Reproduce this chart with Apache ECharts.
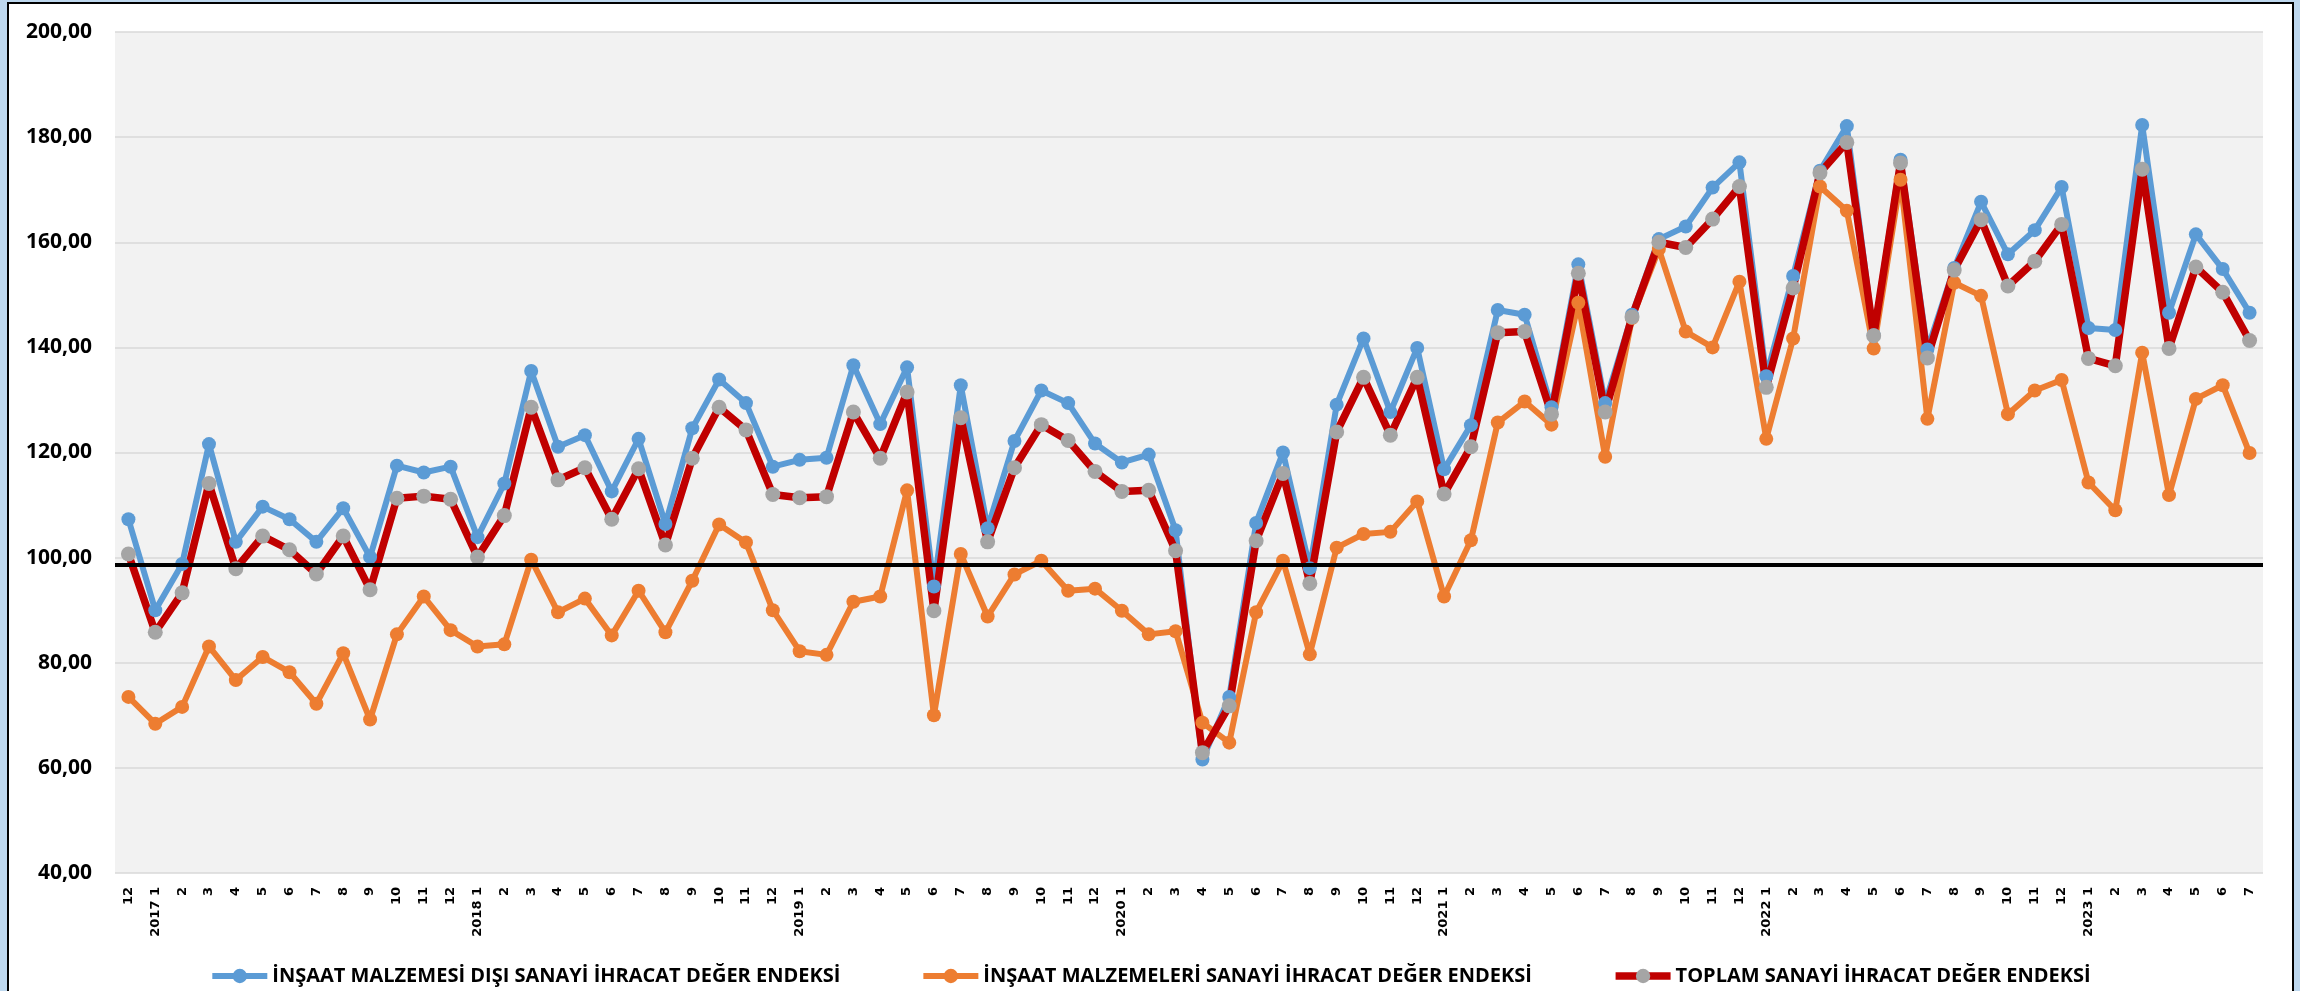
<!DOCTYPE html>
<html>
<head>
<meta charset="utf-8">
<title>İhracat Değer Endeksi</title>
<script src="https://cdn.jsdelivr.net/npm/echarts@6.0.0/dist/echarts.min.js"></script>
<style>
  html, body { margin: 0; padding: 0; background: #BDD7EE; width: 2300px; height: 991px; overflow: hidden; }
  #frame { position: absolute; left: 7px; top: 2px; width: 2283px; height: 1020px; border: 2px solid #000; background: #fff; }
  #chart { position: absolute; left: 0; top: 0; width: 2300px; height: 991px; }
</style>
</head>
<body>
<div id="frame"></div>
<div id="chart"></div>
<script>
// ay etiketleri (2016/12 - 2023/7)
var months = ['12',
  '2017 1','2','3','4','5','6','7','8','9','10','11','12',
  '2018 1','2','3','4','5','6','7','8','9','10','11','12',
  '2019 1','2','3','4','5','6','7','8','9','10','11','12',
  '2020 1','2','3','4','5','6','7','8','9','10','11','12',
  '2021 1','2','3','4','5','6','7','8','9','10','11','12',
  '2022 1','2','3','4','5','6','7','8','9','10','11','12',
  '2023 1','2','3','4','5','6','7'];

var disiSanayi = [107.3, 90.0, 98.8, 121.6, 103.0, 109.7, 107.3, 103.0, 109.4, 100.1,
  117.5, 116.2, 117.3, 103.9, 114.1, 135.5, 121.1, 123.3, 112.6, 122.6,
  106.4, 124.6, 133.9, 129.4, 117.3, 118.6, 119.0, 136.6, 125.4, 136.2,
  94.5, 132.8, 105.6, 122.2, 131.8, 129.4, 121.7, 118.1, 119.6, 105.2,
  61.6, 73.5, 106.6, 120.0, 98.0, 129.1, 141.7, 127.7, 139.9, 116.8,
  125.2, 147.1, 146.2, 128.6, 155.8, 129.4, 146.2, 160.6, 163.0, 170.4,
  175.2, 134.5, 153.6, 173.6, 182.1, 142.3, 175.7, 139.6, 155.1, 167.7,
  157.7, 162.3, 170.5, 143.7, 143.3, 182.3, 146.6, 161.5, 154.9, 146.6];

var malzemeSanayi = [73.5, 68.4, 71.6, 83.1, 76.7, 81.1, 78.2, 72.2, 81.8, 69.2,
  85.4, 92.6, 86.2, 83.1, 83.5, 99.6, 89.6, 92.2, 85.2, 93.7,
  85.8, 95.6, 106.3, 102.9, 90.0, 82.2, 81.5, 91.6, 92.6, 112.8,
  70.0, 100.7, 88.8, 96.8, 99.4, 93.7, 94.1, 89.9, 85.4, 86.0,
  68.6, 64.8, 89.6, 99.4, 81.6, 101.9, 104.5, 104.9, 110.7, 92.6,
  103.3, 125.7, 129.7, 125.3, 148.5, 119.2, 145.6, 158.7, 143.0, 140.0,
  152.5, 122.6, 141.7, 170.6, 166.0, 139.8, 171.9, 126.4, 152.3, 149.8,
  127.3, 131.8, 133.8, 114.3, 109.0, 139.0, 111.9, 130.2, 132.8, 119.9];

var toplamSanayi = [100.7, 85.8, 93.3, 114.1, 97.9, 104.1, 101.5, 96.9, 104.1, 93.9,
  111.3, 111.7, 111.1, 100.1, 108.0, 128.6, 114.8, 117.1, 107.3, 116.9,
  102.4, 118.9, 128.6, 124.3, 112.0, 111.4, 111.6, 127.7, 118.9, 131.5,
  89.9, 126.6, 103.0, 117.1, 125.3, 122.3, 116.4, 112.6, 112.8, 101.3,
  62.9, 71.8, 103.2, 116.0, 95.1, 123.9, 134.3, 123.3, 134.3, 112.1,
  121.1, 142.8, 143.0, 127.3, 154.1, 127.7, 145.8, 160.0, 159.0, 164.4,
  170.6, 132.4, 151.3, 173.2, 179.0, 142.2, 175.1, 138.0, 154.7, 164.3,
  151.7, 156.4, 163.4, 137.9, 136.5, 173.9, 139.8, 155.3, 150.5, 141.3];

var referansCizgi = 98.7;

var chart = echarts.init(document.getElementById('chart'));

chart.setOption({
  animation: false,
  grid: {
    left: 115,
    right: 37,
    top: 32,
    bottom: 118,
    show: true,
    backgroundColor: '#F2F2F2',
    borderWidth: 0
  },
  legend: {
    left: 'center',
    top: 961,
    itemWidth: 55,
    itemHeight: 18,
    itemGap: 80,
    lineStyle: { width: 'inherit' },
    textStyle: { fontFamily: 'Open Sans', fontWeight: 'bold', fontSize: 20, color: '#000' },
    data: ['İNŞAAT MALZEMESİ DIŞI SANAYİ İHRACAT DEĞER ENDEKSİ',
           'İNŞAAT MALZEMELERİ SANAYİ İHRACAT DEĞER ENDEKSİ',
           'TOPLAM SANAYİ İHRACAT DEĞER ENDEKSİ']
  },
  xAxis: {
    type: 'category',
    data: months,
    boundaryGap: true,
    axisLine: { show: false },
    axisTick: { show: false },
    axisLabel: {
      interval: 0,
      rotate: 90,
      margin: 14,
      fontFamily: 'DejaVu Sans',
      fontWeight: 'bold',
      fontSize: 13,
      color: '#000'
    }
  },
  yAxis: {
    type: 'value',
    min: 40,
    max: 200,
    interval: 20,
    axisLine: { show: false },
    axisTick: { show: false },
    splitLine: { lineStyle: { color: '#D9D9D9', width: 1.5 } },
    axisLabel: {
      margin: 23,
      fontFamily: 'Open Sans',
      fontWeight: 'bold',
      fontSize: 21,
      color: '#000',
      formatter: function (v) { return v.toFixed(2).replace('.', ','); }
    }
  },
  series: [{
    name: 'İNŞAAT MALZEMESİ DIŞI SANAYİ İHRACAT DEĞER ENDEKSİ',
    type: 'line',
    data: disiSanayi,
    symbol: 'circle',
    symbolSize: 14,
    showAllSymbol: true,
    color: '#5B9BD5',
    lineStyle: { color: '#5B9BD5', width: 6 },
    itemStyle: { color: '#5B9BD5' },
    emphasis: { disabled: true }
  }, {
    name: 'İNŞAAT MALZEMELERİ SANAYİ İHRACAT DEĞER ENDEKSİ',
    type: 'line',
    data: malzemeSanayi,
    symbol: 'circle',
    symbolSize: 14,
    showAllSymbol: true,
    color: '#ED7D31',
    lineStyle: { color: '#ED7D31', width: 6 },
    itemStyle: { color: '#ED7D31' },
    emphasis: { disabled: true },
    markLine: {
      silent: true,
      symbol: 'none',
      label: { show: false },
      lineStyle: { color: '#000', width: 4, type: 'solid' },
      data: [{ yAxis: referansCizgi }]
    }
  }, {
    name: 'TOPLAM SANAYİ İHRACAT DEĞER ENDEKSİ',
    type: 'line',
    data: toplamSanayi,
    symbol: 'circle',
    symbolSize: 15,
    showAllSymbol: true,
    color: '#A5A5A5',
    lineStyle: { color: '#C00000', width: 7.5 },
    itemStyle: { color: '#A5A5A5' },
    emphasis: { disabled: true }
  }]
});
</script>
</body>
</html>
